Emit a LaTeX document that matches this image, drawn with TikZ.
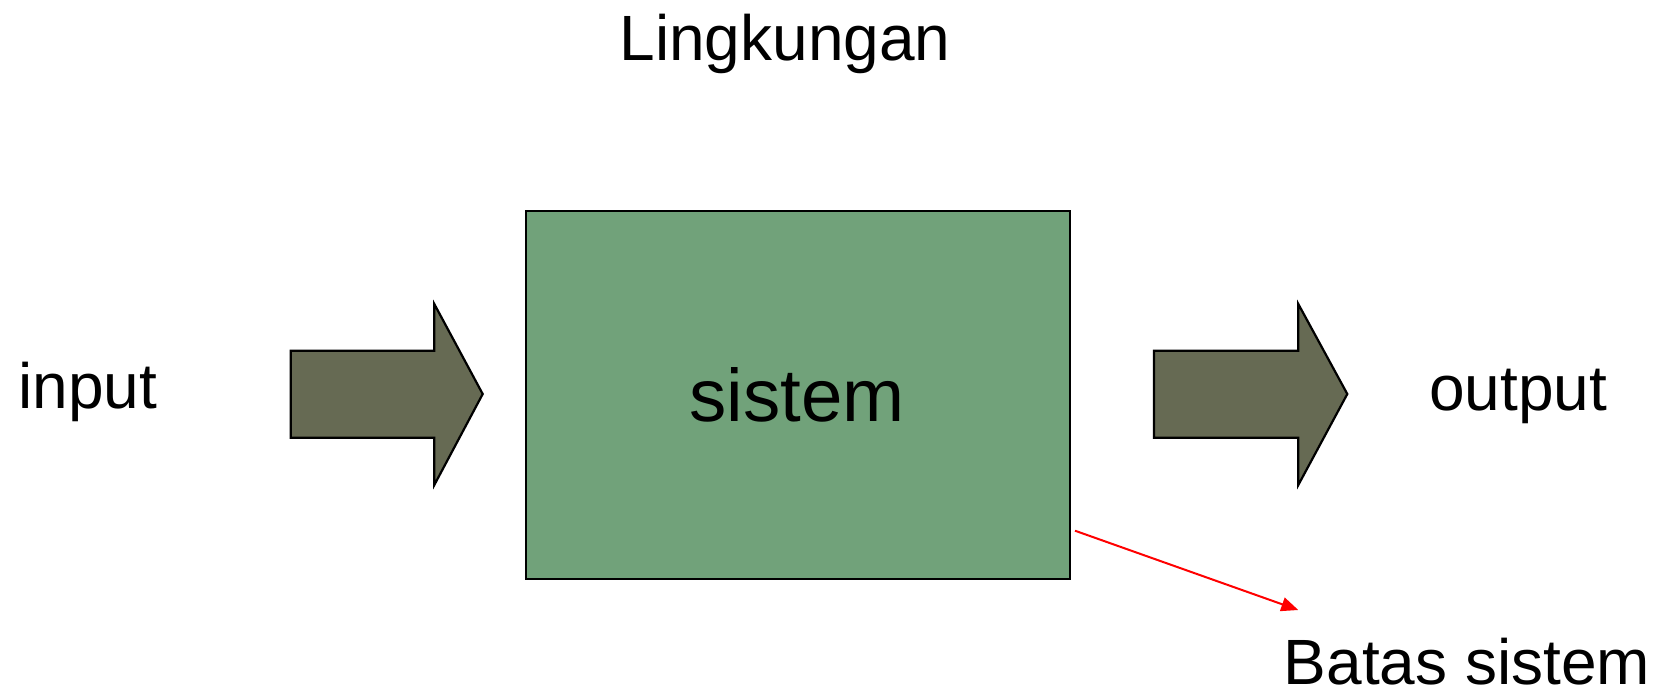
\documentclass[tikz,border=0pt]{standalone}
\usepackage{fontspec}
\setmainfont{Liberation Sans}
\usetikzlibrary{arrows.meta}
\definecolor{boxgreen}{RGB}{113,162,122}
\definecolor{arrowolive}{RGB}{102,106,83}
\definecolor{pointred}{RGB}{255,0,0}
\begin{document}
\begin{tikzpicture}[x=1pt,y=-1pt,
  label64/.style={inner sep=0pt,anchor=base,font=\fontsize{64}{72}\selectfont},
  fatarrow/.style={draw=black,line width=2.2pt,fill=arrowolive,line join=miter},
  sysbox/.style={draw=black,line width=2pt,fill=boxgreen,minimum width=544pt,minimum height=368pt,inner sep=0pt}]
\useasboundingbox (0,0) rectangle (1662,689);
% system box
\node[sysbox] (box) at (798,394.7) {};
\node[inner sep=0pt,anchor=base,font=\fontsize{74.5}{82}\selectfont] (sistem) at (797,421.7) {sistem};
% labels
\node[label64] (ling) at (785,60.5) {Lingkungan};
\node[label64] (input) at (88,408) {input};
\node[label64] (output) at (1518,410) {output};
\node[label64] (batas) at (1467,684) {Batas sistem};
% fat arrows
\draw[fatarrow] (290.7,350.7) -- (434.3,350.7) -- (434.3,304) -- (482.7,394) -- (434.3,485) -- (434.3,437.7) -- (290.7,437.7) -- cycle;
\draw[fatarrow] (1154,350.7) -- (1298.3,350.7) -- (1298.3,304) -- (1347.3,394) -- (1298.3,485) -- (1298.3,437.7) -- (1154,437.7) -- cycle;
% pointer
\coordinate (pstart) at (1075,530.7);
\coordinate (pend) at (1298.3,610);
\draw[pointred,line width=2pt,-{Triangle[length=17pt,width=14pt]}] (pstart) -- (pend);
\end{tikzpicture}
\end{document}
